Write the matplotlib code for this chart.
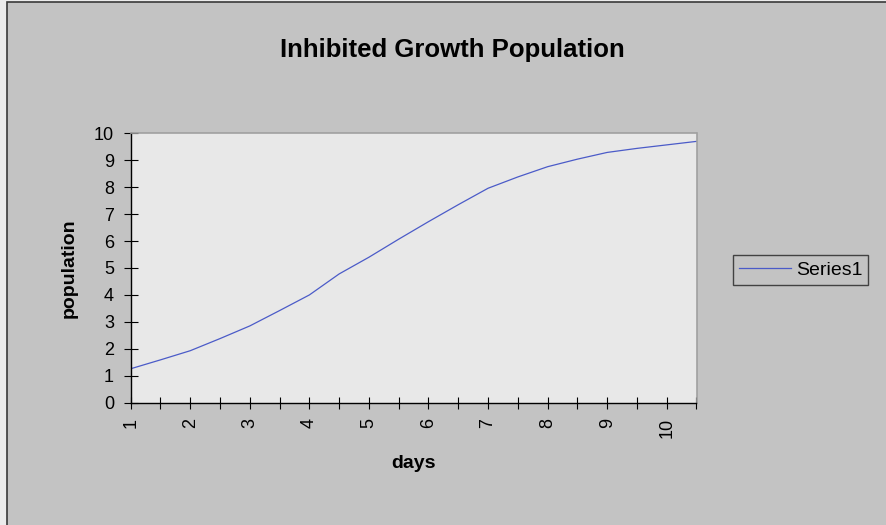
import matplotlib
matplotlib.use("Agg")
import matplotlib.pyplot as plt
from matplotlib.patches import Rectangle
import numpy as np

# data
days = [1, 1.5, 2, 2.5, 3, 3.5, 4, 4.5, 5, 5.5, 6, 6.5, 7, 7.5, 8, 8.5, 9, 9.5, 10, 10.5]
population = [1.26, 1.59, 1.93, 2.38, 2.85, 3.42, 4.00, 4.78, 5.40, 6.07,
              6.72, 7.35, 7.96, 8.38, 8.76, 9.04, 9.29, 9.44, 9.57, 9.70]
day_labels = [1, 2, 3, 4, 5, 6, 7, 8, 9, 10]
pop_ticks = [0, 1, 2, 3, 4, 5, 6, 7, 8, 9, 10]

W, H = 886, 525
BG = "#c3c3c3"
PLOTBG = "#e8e8e8"
LINE = "#4b5bc8"

plt.rcParams['font.family'] = ['Liberation Sans', 'DejaVu Sans']

fig = plt.figure(figsize=(W / 100, H / 100), dpi=100)
fig.patch.set_facecolor("#ececec")

# chart area (cropped on the right and bottom)
fig.patches.append(Rectangle((7 / W, -0.1), 1.2, 1 - 1.5 / H + 0.1, transform=fig.transFigure,
                             facecolor=BG, edgecolor="#3a3a3a", linewidth=1.2, zorder=-5))

ax = fig.add_axes([130.7 / W, 1 - 402.7 / H, (696.5 - 130.7) / W, (402.7 - 133.3) / H])
ax.set_facecolor(PLOTBG)
ax.set_zorder(2)

ax.plot(days, population, color=LINE, linewidth=0.9, label="Series1")

ax.set_xlim(1, 10.5)
ax.set_ylim(0, 10)

ax.set_xticks(day_labels)
ax.set_xticklabels([str(d) for d in day_labels], rotation=90)
ax.set_xticks([d + 0.5 for d in day_labels], minor=True)
ax.set_yticks(pop_ticks)

ax.tick_params(axis='x', which='both', direction='inout', length=8.6, width=0.8,
               pad=6.5, labelsize=13, colors='black')
ax.tick_params(axis='y', which='both', direction='inout', length=10, width=0.8,
               pad=7, labelsize=13, colors='black')

for s in ['top', 'right']:
    ax.spines[s].set_color('#a0a0a0')
    ax.spines[s].set_linewidth(1.2)
for s in ['left', 'bottom']:
    ax.spines[s].set_color('black')
    ax.spines[s].set_linewidth(1.0)

ax.set_xlabel("days", fontsize=14, fontweight='bold', va='top')
ax.xaxis.set_label_coords(0.5, -0.194)
ax.set_ylabel("population", fontsize=14, fontweight='bold')
ax.yaxis.set_label_coords(-0.093, 0.5)

fig.text(452 / W, 1 - 56.7 / H, "Inhibited Growth Population", fontsize=18.5,
         fontweight='bold', ha='center', va='baseline')

leg = fig.legend(loc='center', bbox_to_anchor=(800.5 / W, 1 - 270 / H), fontsize=14,
                 frameon=True, fancybox=False, handlelength=2.7, handletextpad=0.25,
                 borderpad=0.3, borderaxespad=0)
leg.get_frame().set_facecolor(BG)
leg.get_frame().set_edgecolor('#222222')
leg.get_frame().set_linewidth(1.0)

fig.savefig("out.png", dpi=100, facecolor=fig.get_facecolor())
